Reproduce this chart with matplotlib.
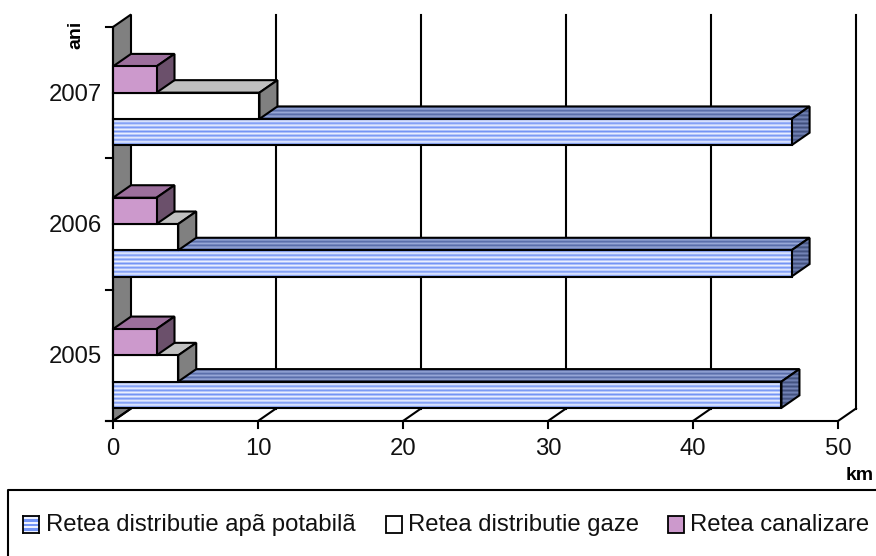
import numpy as np
import matplotlib
matplotlib.use("Agg")
import matplotlib.pyplot as plt
from matplotlib.patches import Polygon, Rectangle
from matplotlib.lines import Line2D
from matplotlib.colors import LinearSegmentedColormap

years = ["2005", "2006", "2007"]
apa = [46.1, 46.8, 46.8]
gaze = [4.5, 4.5, 10.1]
canal = [3.0, 3.0, 3.0]
xticks = [0, 10, 20, 30, 40, 50]
legend_labels = ["Retea distributie apã potabilã", "Retea distributie gaze", "Retea canalizare"]
legend_x = [46, 408, 690]
swatch_x = [23, 386, 668]

plt.rcParams['font.family'] = ['Liberation Sans', 'DejaVu Sans']
W, H = 876, 556
FS = 17.2
fig = plt.figure(figsize=(W / 100, H / 100), dpi=100)
L, R, T, B = 113, 838, 27, 421
ax = fig.add_axes([L / W, 1 - B / H, (R - L) / W, (B - T) / H])
ax.set_xlim(0, 50)
ax.set_ylim(0, 3)
ax.axis("off")

DX = 18 / 14.5
DY = 12.5 / ((B - T) / 3)
BH = 0.2
LW = 1.5
FRONT = ("#7394f5", "#eef2ff")


def poly(pts, fc, z):
    p = Polygon(pts, closed=True, fc=fc, ec="black", lw=LW, zorder=z, clip_on=False, joinstyle="miter")
    ax.add_patch(p)
    return p


def stripes(pts, c1, c2, z, rows):
    cm = LinearSegmentedColormap.from_list("s", [c1, c2])
    arr = (np.arange(rows) % 2)[:, None]
    xs = [p[0] for p in pts]
    ys = [p[1] for p in pts]
    im = ax.imshow(arr, cmap=cm, extent=(min(xs), max(xs), min(ys), max(ys)), aspect="auto",
                   interpolation="bilinear", zorder=z, origin="lower")
    clip = Polygon(pts, closed=True, transform=ax.transData, fc="none", ec="none")
    ax.add_patch(clip)
    im.set_clip_path(clip)
    im.set_clip_on(True)
    ax.add_patch(Polygon(pts, closed=True, fc="none", ec="black", lw=LW, zorder=z + 0.1, clip_on=False))


def box(x, y0, fc, fc_top, fc_side, z, striped=False):
    y1 = y0 + BH
    top = [(0, y1), (x, y1), (x + DX, y1 + DY), (DX, y1 + DY)]
    side = [(x, y0), (x + DX, y0 + DY), (x + DX, y1 + DY), (x, y1)]
    front = [(0, y0), (x, y0), (x, y1), (0, y1)]
    if striped:
        stripes(top, "#566aa8", "#98a8d8", z, 7)
        stripes(side, "#3f4e7c", "#7686b8", z + 0.2, 19)
        stripes(front, FRONT[0], FRONT[1], z + 0.4, 13)
    else:
        poly(top, fc_top, z)
        poly(side, fc_side, z + 0.2)
        poly(front, fc, z + 0.4)


# back wall: left side wall and gridlines
poly([(0, 0), (DX, DY), (DX, 3 + DY), (0, 3)], "#808080", 1)
for t in xticks:
    if t > 0:
        ax.add_line(Line2D([t + DX, t + DX], [DY, 3 + DY], color="black", lw=LW, zorder=1, clip_on=False))
    ax.add_line(Line2D([t, t + DX], [0, DY], color="black", lw=LW, zorder=1, clip_on=False))
    ax.add_line(Line2D([t, t], [0, -7 / 131.3], color="black", lw=LW, zorder=1, clip_on=False))
    ax.text(t, -28 / 131.3, str(t), ha="center", va="center", fontsize=FS, color="#111111")
ax.add_line(Line2D([-0.5, 50], [0, 0], color="black", lw=LW, zorder=2, clip_on=False))

# bars
for i, yr in enumerate(years):
    box(apa[i], i + 0.1, None, None, None, 3 + i, striped=True)
    box(gaze[i], i + 0.3, "white", "#c0c0c0", "#808080", 3.5 + i)
    box(canal[i], i + 0.5, "#cc99cc", "#9c6f9c", "#6b506b", 3.7 + i)
    ax.text(-0.76, i + 0.485, yr, ha="right", va="center", fontsize=FS, color="#111111")
for k in range(4):
    ax.add_line(Line2D([-0.5, 0], [k, k], color="black", lw=LW, zorder=2, clip_on=False))
ax.add_line(Line2D([0, 0], [0, 3], color="black", lw=LW, zorder=9, clip_on=False))

fig.text(76 / W, 1 - 35 / H, "ani", rotation=90, ha="center", va="center", fontsize=14, fontweight="bold")
fig.text(860 / W, 1 - 475 / H, "km", ha="center", va="center", fontsize=14, fontweight="bold")

# legend frame
fig.add_artist(Line2D([8 / W, 8 / W, 1], [0, 1 - 490 / H, 1 - 490 / H], color="black", lw=LW))
sw_colors = [None, "white", "#cc99cc"]
for j, lab in enumerate(legend_labels):
    fig.text(legend_x[j] / W, 1 - 525 / H, lab, ha="left", va="center", fontsize=FS, color="#111111")
    x0 = swatch_x[j]
    if j == 0:
        cm = LinearSegmentedColormap.from_list("s2", list(FRONT))
        axs = fig.add_axes([x0 / W, 1 - 533 / H, 16 / W, 17 / H])
        axs.imshow((np.arange(8) % 2)[:, None], cmap=cm, aspect="auto", interpolation="nearest")
        axs.set_xticks([])
        axs.set_yticks([])
        for s in axs.spines.values():
            s.set_linewidth(1.3)
    else:
        fig.add_artist(Rectangle((x0 / W, 1 - 533 / H), 16 / W, 17 / H, transform=fig.transFigure,
                                 fc=sw_colors[j], ec="black", lw=1.3))

fig.savefig("out.png", dpi=100)
